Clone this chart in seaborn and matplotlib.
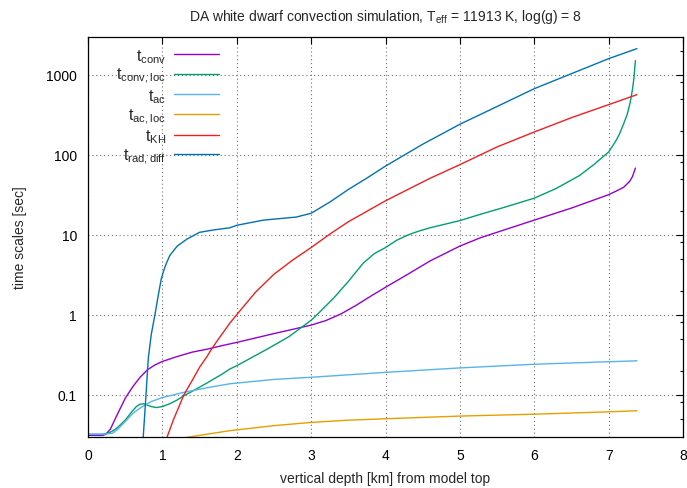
import numpy as np
import pandas as pd
import matplotlib
matplotlib.use("Agg")
import matplotlib.pyplot as plt
import matplotlib.ticker as mticker
from matplotlib.lines import Line2D
import seaborn as sns

# depth [km] and time scales [sec] for each series
x_conv = [0.0, 0.1, 0.2, 0.24, 0.3, 0.4, 0.5, 0.6, 0.7, 0.8, 0.9, 1.0, 1.2, 1.4, 1.6, 1.8,
          2.0, 2.5, 3.0, 3.2, 3.4, 3.6, 3.8, 4.0, 4.3, 4.6, 5.0, 5.27, 5.6, 6.0, 6.5, 7.0,
          7.1, 7.2, 7.28, 7.32, 7.36]
t_conv = [0.031, 0.031, 0.031, 0.032, 0.037, 0.058, 0.09, 0.125, 0.165, 0.205, 0.235, 0.26, 0.3,
          0.34, 0.37, 0.41, 0.45, 0.58, 0.74, 0.845, 1.02, 1.3, 1.7, 2.2, 3.2, 4.7, 7.2, 9.1,
          11.5, 15.2, 21.5, 31.6, 35.0, 39.0, 46.0, 53.0, 68.0]

x_conv_loc = [0.0, 0.1, 0.2, 0.26, 0.3, 0.35, 0.4, 0.5, 0.6, 0.65, 0.7, 0.75, 0.8, 0.85, 0.92,
              1.0, 1.1, 1.2, 1.29, 1.4, 1.6, 1.8, 1.91, 2.0, 2.42, 2.7, 3.0, 3.08, 3.3, 3.5, 3.7,
              3.85, 4.0, 4.15, 4.3, 4.45, 4.6, 5.0, 5.27, 5.6, 6.0, 6.3, 6.61, 6.8, 7.0, 7.1,
              7.15, 7.2, 7.25, 7.29, 7.32, 7.34, 7.36]
t_conv_loc = [0.032, 0.032, 0.032, 0.033, 0.034, 0.036, 0.039, 0.048, 0.063, 0.071, 0.076, 0.077,
              0.074, 0.071, 0.069, 0.071, 0.077, 0.086, 0.097, 0.11, 0.14, 0.18, 0.21, 0.23, 0.376,
              0.53, 0.85, 1.0, 1.6, 2.6, 4.4, 5.8, 6.9, 8.5, 9.9, 11.1, 12.2, 15.0, 17.9, 22.0,
              28.6, 38.0, 55.0, 75.0, 108.0, 150.0, 185.0, 240.0, 320.0, 450.0, 650.0, 900.0,
              1500.0]

x_ac = [0.0, 0.1, 0.2, 0.33, 0.4, 0.5, 0.6, 0.7, 0.775, 0.85, 1.0, 1.29, 1.6, 1.91, 2.5, 3.0,
        4.0, 5.0, 6.0, 7.0, 7.38]
t_ac = [0.032, 0.032, 0.032, 0.033, 0.037, 0.046, 0.058, 0.068, 0.075, 0.082, 0.092, 0.107,
        0.122, 0.137, 0.155, 0.165, 0.19, 0.216, 0.24, 0.258, 0.265]

x_ac_loc = [1.0, 1.3, 1.5, 1.91, 2.5, 3.0, 3.5, 4.0, 5.0, 6.0, 7.0, 7.38]
t_ac_loc = [0.027, 0.029, 0.031, 0.0355, 0.041, 0.045, 0.048, 0.05, 0.054, 0.057, 0.061, 0.063]

x_kh = [1.05, 1.066, 1.15, 1.2, 1.29, 1.4, 1.5, 1.6, 1.66, 1.75, 1.91, 2.0, 2.25, 2.5, 2.75,
        3.0, 3.24, 3.5, 4.0, 4.3, 4.6, 5.0, 5.5, 6.0, 6.5, 7.0, 7.38]
t_kh = [0.027, 0.030, 0.049, 0.063, 0.1, 0.15, 0.22, 0.30, 0.37, 0.49, 0.79, 1.0, 1.9, 3.2,
        4.8, 6.9, 10.0, 14.5, 26.5, 36.7, 50.7, 75.0, 125.0, 192.0, 290.0, 422.0, 562.0]

x_rad = [0.73, 0.743, 0.78, 0.81, 0.85, 0.9, 0.95, 0.985, 1.02, 1.05, 1.1, 1.2, 1.33, 1.5, 1.7,
         1.91, 2.0, 2.36, 2.8, 3.0, 3.25, 3.5, 3.75, 4.0, 4.5, 5.0, 5.27, 6.0, 7.0, 7.38]
t_rad = [0.022, 0.030, 0.1, 0.28, 0.56, 1.0, 1.86, 2.8, 3.6, 4.3, 5.5, 7.2, 8.8, 10.7, 11.5,
         12.2, 13.1, 15.2, 16.6, 18.5, 25.5, 36.7, 51.0, 72.0, 135.0, 240.0, 316.0, 668.0,
         1585.0, 2115.0]

labels = [r"$\mathregular{t_{conv}}$", r"$\mathregular{t_{conv,loc}}$",
          r"$\mathregular{t_{ac}}$", r"$\mathregular{t_{ac,loc}}$",
          r"$\mathregular{t_{KH}}$", r"$\mathregular{t_{rad,diff}}$"]
colors = ["#9400d3", "#009e73", "#56b4e9", "#e69f00", "#f02020", "#0072b2"]

series = [(x_conv, t_conv), (x_conv_loc, t_conv_loc), (x_ac, t_ac),
          (x_ac_loc, t_ac_loc), (x_kh, t_kh), (x_rad, t_rad)]
frames = []
for name, (xs, ts) in zip(labels, series):
    frames.append(pd.DataFrame({"depth": xs, "tau": ts, "quantity": name}))
df = pd.concat(frames, ignore_index=True)

sns.set_style("white")
plt.rcParams["font.family"] = ["Liberation Sans", "DejaVu Sans"]
plt.rcParams["mathtext.fontset"] = "custom"
plt.rcParams["mathtext.rm"] = "Liberation Sans"

fig = plt.figure(figsize=(6.87, 4.89), dpi=100)
ax = fig.add_axes([88 / 687, 1 - 437.5 / 489, 595 / 687, 400 / 489])

sns.lineplot(data=df, x="depth", y="tau", hue="quantity", hue_order=labels,
             palette=dict(zip(labels, colors)), estimator=None, sort=True,
             linewidth=1.0, ax=ax, legend=False)

ax.set_yscale("log")
ax.set_xlim(0, 8)
ax.set_ylim(0.03, 3000)
ax.set_xticks(range(0, 9))
ax.yaxis.set_major_locator(mticker.FixedLocator([0.1, 1, 10, 100, 1000]))
ax.yaxis.set_major_formatter(mticker.FixedFormatter(["0.1", "1", "10", "100", "1000"]))
ax.yaxis.set_minor_locator(mticker.LogLocator(base=10, subs=[2, 5, 8]))
ax.yaxis.set_minor_formatter(mticker.NullFormatter())

ax.tick_params(which="both", direction="in", top=True, right=True, labelsize=10,
               colors="black", width=0.8)
ax.tick_params(which="major", length=5)
ax.tick_params(which="minor", length=2.5)
ax.tick_params(axis="x", pad=8)
ax.tick_params(axis="y", pad=8)
for sp in ax.spines.values():
    sp.set_color("black")
    sp.set_linewidth(0.9)

ax.grid(True, which="major", color="#707070", linestyle=(0, (1, 2.5)), linewidth=0.8)
ax.set_axisbelow(True)

ax.set_xlabel("vertical depth [km] from model top", fontsize=10, labelpad=7)
ax.set_ylabel("time scales [sec]", fontsize=10, labelpad=14)
ax.set_title(r"DA white dwarf convection simulation, T$\mathregular{_{eff}}$ = 11913 K, log(g) = 8",
             fontsize=10, pad=12)

handles = [Line2D([], [], color=c, linewidth=1.0) for c in colors]
ax.legend(handles, labels, loc="upper right", bbox_to_anchor=(0.237, 1.0),
          markerfirst=False, frameon=False, fontsize=11.5, handlelength=2.8,
          handletextpad=0.5, labelspacing=0.1, borderaxespad=0.25)

fig.savefig("out.png", dpi=100)
